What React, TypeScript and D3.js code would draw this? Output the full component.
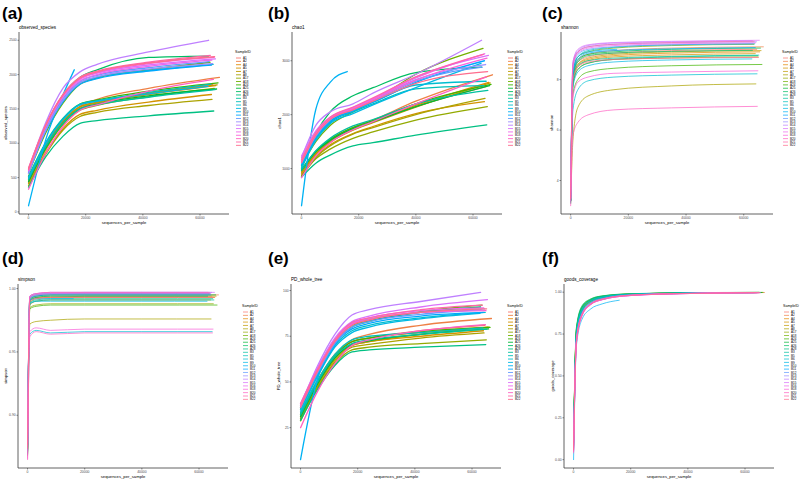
import React from 'react';
import * as d3 from 'd3';

// Sample identifiers, in legend order
const SAMPLES = ['A1', 'A2', 'A4', 'A5', 'A7', 'A8', 'A17', 'A18', 'A24', 'A25', 'A26', 'A28', 'B3', 'B5', 'B6', 'B9', 'B10', 'B11', 'B12', 'B13', 'B14', 'B15', 'B16', 'B18', 'B20', 'B21', 'B22'];

// Deepest rarefaction depth reached by each sample
const SAMPLE_END = [64500, 66800, 65500, 64000, 66000, 64200, 65000, 63500, 66300, 65800, 63000, 64800, 65200, 63800, 64600, 62800, 16000, 64000, 63200, 64400, 63000, 65400, 64100, 64900, 64700, 63600, 65100];

const X_TICKS = [0, 20000, 40000, 60000];

// Depth grids; the last value of every row sits at that sample's own end depth
const GRID_OBSERVED = [0, 6000, 12000, 18000, 24000, 42000];
const GRID_CHAO1 = [0, 5000, 10000, 18000, 25000, 40000];
const GRID_SHANNON = [10, 800, 2500, 6000, 15000, 35000];
const GRID_SIMPSON = [10, 800, 3000, 8000, 20000, 40000];
const GRID_PD = [0, 6000, 12000, 18000, 24000, 42000];
const GRID_GOODS = [10, 1000, 3000, 6000, 10000, 20000, 40000];

const observedSpecies = [
  [470, 930, 1290, 1510, 1590, 1720, 1860],
  [430, 900, 1290, 1540, 1640, 1800, 1960],
  [500, 970, 1320, 1530, 1590, 1710, 1840],
  [410, 860, 1210, 1420, 1480, 1600, 1710],
  [480, 960, 1310, 1530, 1600, 1730, 1850],
  [380, 840, 1190, 1390, 1450, 1550, 1640],
  [450, 920, 1270, 1480, 1550, 1680, 1800],
  [560, 1150, 1580, 1860, 1950, 2070, 2180],
  [520, 1000, 1350, 1570, 1630, 1760, 1880],
  [440, 930, 1290, 1500, 1570, 1690, 1790],
  [580, 1230, 1700, 1960, 2070, 2250, 2270],
  [360, 800, 1100, 1290, 1330, 1400, 1470],
  [470, 950, 1290, 1500, 1560, 1670, 1780],
  [510, 1010, 1360, 1570, 1620, 1740, 1860],
  [580, 1200, 1620, 1880, 1960, 2060, 2150],
  [490, 990, 1340, 1560, 1610, 1720, 1830],
  [90, 1050, 1700, 2070],
  [570, 1180, 1600, 1860, 1940, 2050, 2140],
  [590, 1220, 1650, 1900, 1990, 2100, 2190],
  [560, 1190, 1620, 1880, 1970, 2080, 2160],
  [620, 1300, 1800, 2040, 2150, 2330, 2500],
  [630, 1260, 1690, 1930, 2020, 2140, 2230],
  [610, 1240, 1670, 1910, 2000, 2120, 2210],
  [600, 1250, 1690, 1940, 2030, 2160, 2250],
  [330, 850, 1240, 1480, 1560, 1760, 1930],
  [640, 1270, 1710, 1960, 2050, 2180, 2280],
  [620, 1260, 1700, 1950, 2040, 2170, 2260],
];

const chao1 = [
  [880, 1250, 1480, 1720, 1860, 2150, 2520],
  [900, 1300, 1530, 1760, 1900, 2250, 2740],
  [950, 1290, 1500, 1730, 1870, 2170, 2600],
  [860, 1220, 1440, 1650, 1780, 2020, 2240],
  [920, 1270, 1490, 1710, 1850, 2140, 2590],
  [850, 1200, 1420, 1640, 1760, 2000, 2300],
  [870, 1180, 1360, 1560, 1680, 1900, 2150],
  [1050, 1500, 1800, 2050, 2250, 2750, 3230],
  [980, 1320, 1540, 1760, 1890, 2200, 2560],
  [960, 1310, 1520, 1740, 1870, 2150, 2540],
  [1000, 1650, 2050, 2350, 2500, 2780, 2880],
  [840, 1100, 1250, 1420, 1480, 1620, 1810],
  [970, 1330, 1560, 1790, 1910, 2200, 2450],
  [1000, 1550, 1850, 2050, 2200, 2480, 2540],
  [1060, 1560, 1880, 2080, 2230, 2550, 2620],
  [1020, 1520, 1830, 2020, 2180, 2500, 2950],
  [310, 2100, 2600, 2800],
  [1080, 1580, 1870, 2070, 2230, 2600, 3000],
  [1100, 1600, 1900, 2100, 2260, 2620, 2880],
  [1120, 1620, 1920, 2110, 2280, 2650, 2930],
  [1200, 1800, 2050, 2200, 2400, 2750, 3380],
  [1230, 1700, 1950, 2130, 2300, 2700, 3100],
  [1150, 1650, 1930, 2120, 2290, 2680, 3130],
  [1130, 1640, 1920, 2100, 2270, 2640, 3050],
  [830, 1230, 1480, 1720, 1870, 2200, 2700],
  [1170, 1670, 1950, 2140, 2310, 2700, 3120],
  [1110, 1620, 1910, 2090, 2250, 2580, 2800],
];

const shannon = [
  [3.2, 8.1, 8.7, 8.9, 9.05, 9.15, 9.2],
  [3.2, 8.2, 8.8, 9.0, 9.15, 9.25, 9.3],
  [3.25, 8.0, 8.6, 8.8, 8.95, 9.05, 9.1],
  [3.2, 7.9, 8.5, 8.75, 8.9, 8.98, 9.03],
  [3.2, 8.0, 8.6, 8.85, 9.0, 9.1, 9.15],
  [3.1, 5.6, 6.9, 7.35, 7.6, 7.75, 7.83],
  [3.2, 7.8, 8.4, 8.65, 8.8, 8.86, 8.9],
  [3.25, 8.3, 8.9, 9.1, 9.25, 9.35, 9.4],
  [3.2, 7.4, 8.0, 8.3, 8.45, 8.55, 8.6],
  [3.25, 8.2, 8.75, 9.0, 9.1, 9.2, 9.25],
  [3.25, 8.1, 8.7, 8.95, 9.05, 9.12, 9.16],
  [3.2, 7.8, 8.4, 8.65, 8.8, 8.9, 8.95],
  [3.2, 8.0, 8.55, 8.75, 8.85, 8.92, 8.97],
  [3.25, 8.3, 8.9, 9.15, 9.28, 9.38, 9.42],
  [3.1, 6.8, 7.6, 7.95, 8.1, 8.18, 8.23],
  [3.2, 7.7, 8.3, 8.55, 8.7, 8.78, 8.82],
  [3.2, 8.3, 8.9, 9.1, 9.2],
  [3.25, 8.2, 8.8, 9.05, 9.15, 9.22, 9.27],
  [3.3, 8.5, 9.0, 9.2, 9.3, 9.38, 9.42],
  [3.3, 8.6, 9.1, 9.3, 9.4, 9.46, 9.5],
  [3.3, 8.7, 9.15, 9.35, 9.45, 9.5, 9.54],
  [3.3, 8.7, 9.2, 9.38, 9.47, 9.52, 9.56],
  [3.3, 8.5, 9.05, 9.25, 9.35, 9.42, 9.46],
  [3.2, 7.3, 7.9, 8.1, 8.25, 8.3, 8.35],
  [3.0, 5.8, 6.3, 6.6, 6.8, 6.88, 6.94],
  [3.3, 8.6, 9.1, 9.3, 9.4, 9.47, 9.52],
  [3.25, 8.0, 8.5, 8.7, 8.8, 8.85, 8.88],
];

const simpson = [
  [0.872, 0.991, 0.993, 0.993, 0.994, 0.994, 0.994],
  [0.875, 0.992, 0.994, 0.995, 0.995, 0.995, 0.995],
  [0.870, 0.989, 0.992, 0.993, 0.993, 0.993, 0.993],
  [0.874, 0.987, 0.990, 0.991, 0.991, 0.991, 0.991],
  [0.873, 0.990, 0.993, 0.994, 0.994, 0.994, 0.994],
  [0.868, 0.972, 0.974, 0.975, 0.976, 0.976, 0.976],
  [0.871, 0.985, 0.987, 0.988, 0.988, 0.988, 0.988],
  [0.876, 0.993, 0.995, 0.996, 0.996, 0.996, 0.996],
  [0.870, 0.984, 0.986, 0.987, 0.987, 0.987, 0.987],
  [0.874, 0.991, 0.994, 0.995, 0.995, 0.995, 0.995],
  [0.873, 0.990, 0.993, 0.994, 0.994, 0.994, 0.994],
  [0.872, 0.989, 0.991, 0.992, 0.992, 0.992, 0.992],
  [0.871, 0.988, 0.990, 0.991, 0.991, 0.991, 0.991],
  [0.876, 0.993, 0.995, 0.996, 0.996, 0.996, 0.996],
  [0.869, 0.964, 0.967, 0.965, 0.966, 0.966, 0.966],
  [0.872, 0.988, 0.990, 0.990, 0.990, 0.990, 0.990],
  [0.880, 0.991, 0.992, 0.992, 0.992],
  [0.875, 0.992, 0.994, 0.995, 0.995, 0.995, 0.995],
  [0.877, 0.993, 0.995, 0.996, 0.996, 0.996, 0.996],
  [0.877, 0.994, 0.996, 0.996, 0.997, 0.997, 0.997],
  [0.878, 0.994, 0.996, 0.997, 0.997, 0.997, 0.997],
  [0.878, 0.994, 0.996, 0.997, 0.997, 0.997, 0.997],
  [0.876, 0.993, 0.995, 0.996, 0.996, 0.996, 0.996],
  [0.866, 0.966, 0.969, 0.967, 0.968, 0.968, 0.968],
  [0.865, 0.962, 0.966, 0.964, 0.965, 0.965, 0.965],
  [0.877, 0.994, 0.996, 0.997, 0.997, 0.997, 0.997],
  [0.874, 0.990, 0.992, 0.993, 0.993, 0.993, 0.993],
];

const pdWholeTree = [
  [32, 50, 64, 72, 74, 78, 81],
  [30, 49, 64, 73, 76, 81, 84.7],
  [33, 51, 65, 72, 74, 77, 80],
  [31, 49, 63, 70, 72, 75, 78],
  [29, 48, 62, 70, 72, 76, 80],
  [28.7, 47, 61, 69, 70.5, 74, 76.8],
  [30, 47, 60, 67.5, 69, 71, 73],
  [36, 56, 72, 81, 83.5, 88.5, 92],
  [32, 50, 64, 72, 74, 77.5, 79.8],
  [31, 49, 63, 70.5, 72.5, 76, 79],
  [35, 55, 71, 80, 83, 88, 91],
  [29, 46, 59, 66.4, 67.5, 69, 70.4],
  [32, 50, 64, 71, 73, 76, 78.9],
  [33, 51, 65, 73, 75, 77, 79.6],
  [35, 54, 70, 78, 81, 85, 88],
  [34, 53, 69, 77, 80, 84.5, 87.5],
  [7.5, 52, 70, 79],
  [36, 55, 71, 79, 82, 86, 88],
  [36, 55, 71, 80, 83, 87, 89.5],
  [37, 57, 73, 82, 84.5, 88, 90],
  [37, 59, 76, 86.6, 89.5, 94, 99],
  [38, 58, 74, 83, 86, 91, 95],
  [38, 57, 73, 82, 85, 89, 90.5],
  [37, 56, 72, 81.5, 84, 88, 89],
  [25, 45, 60, 70, 73, 78, 81.4],
  [38, 57, 73, 82.5, 85, 89.5, 92],
  [36, 56, 72, 81, 84, 88, 90],
];

const goodsCoverage = [
  [0.10, 0.74, 0.89, 0.945, 0.968, 0.986, 0.995, 0.998],
  [0.08, 0.73, 0.885, 0.94, 0.965, 0.985, 0.994, 0.998],
  [0.12, 0.75, 0.895, 0.948, 0.97, 0.987, 0.995, 0.998],
  [0.10, 0.76, 0.90, 0.95, 0.972, 0.988, 0.995, 0.998],
  [0.09, 0.74, 0.89, 0.945, 0.968, 0.986, 0.995, 0.998],
  [0.11, 0.77, 0.905, 0.952, 0.973, 0.989, 0.996, 0.998],
  [0.12, 0.78, 0.91, 0.955, 0.975, 0.99, 0.996, 0.999],
  [0.08, 0.74, 0.89, 0.945, 0.968, 0.986, 0.994, 0.998],
  [0.12, 0.78, 0.915, 0.958, 0.977, 0.99, 0.996, 0.999],
  [0.11, 0.77, 0.91, 0.955, 0.975, 0.989, 0.996, 0.998],
  [0.09, 0.75, 0.90, 0.95, 0.97, 0.987, 0.995, 0.998],
  [0.13, 0.79, 0.92, 0.96, 0.978, 0.991, 0.997, 0.999],
  [0.11, 0.76, 0.905, 0.952, 0.973, 0.988, 0.996, 0.998],
  [0.09, 0.74, 0.895, 0.948, 0.97, 0.987, 0.995, 0.998],
  [0.10, 0.75, 0.90, 0.95, 0.97, 0.987, 0.995, 0.998],
  [0.08, 0.73, 0.885, 0.94, 0.965, 0.985, 0.994, 0.998],
  [0.00, 0.68, 0.84, 0.90, 0.93, 0.952],
  [0.07, 0.72, 0.88, 0.937, 0.962, 0.983, 0.993, 0.997],
  [0.07, 0.72, 0.875, 0.935, 0.96, 0.983, 0.993, 0.997],
  [0.06, 0.71, 0.87, 0.93, 0.958, 0.982, 0.993, 0.997],
  [0.05, 0.70, 0.865, 0.928, 0.955, 0.98, 0.992, 0.997],
  [0.06, 0.70, 0.865, 0.928, 0.956, 0.98, 0.992, 0.997],
  [0.05, 0.70, 0.86, 0.925, 0.955, 0.98, 0.992, 0.997],
  [0.06, 0.71, 0.87, 0.93, 0.958, 0.982, 0.993, 0.997],
  [0.04, 0.69, 0.86, 0.925, 0.955, 0.98, 0.992, 0.997],
  [0.05, 0.70, 0.865, 0.928, 0.956, 0.981, 0.992, 0.997],
  [0.06, 0.71, 0.87, 0.932, 0.96, 0.983, 0.993, 0.997],
];

const TICKS_OBSERVED = [0, 500, 1000, 1500, 2000, 2500];
const TICKS_CHAO1 = [1000, 2000, 3000];
const TICKS_SHANNON = [4, 6, 8];
const TICKS_SIMPSON = [0.9, 0.95, 1.0];
const TICKS_PD = [25, 50, 75, 100];
const TICKS_GOODS = [0, 0.25, 0.5, 0.75, 1];

// Polar-LUV (HCL) to sRGB, giving the classic evenly spaced hue palette
function hcl(h: number, c: number, l: number): string {
  const hr = (h * Math.PI) / 180;
  const U = c * Math.cos(hr);
  const V = c * Math.sin(hr);
  const Xn = 95.047, Yn = 100, Zn = 108.883;
  const Y = l > 8 ? Yn * Math.pow((l + 16) / 116, 3) : (Yn * l) / 903.3;
  const den = Xn + 15 * Yn + 3 * Zn;
  const un = (4 * Xn) / den, vn = (9 * Yn) / den;
  const up = U / (13 * l) + un, vp = V / (13 * l) + vn;
  const X = (9 * Y * up) / (4 * vp);
  const Z = (Y * (12 - 3 * up - 20 * vp)) / (4 * vp);
  const x = X / 100, y = Y / 100, z = Z / 100;
  const lin = [
    3.240479 * x - 1.53715 * y - 0.498535 * z,
    -0.969256 * x + 1.875992 * y + 0.041556 * z,
    0.055648 * x - 0.204043 * y + 1.057311 * z,
  ];
  const ch = lin.map((v) => {
    const g = v <= 0.0031308 ? 12.92 * v : 1.055 * Math.pow(v, 1 / 2.4) - 0.055;
    return Math.round(Math.max(0, Math.min(1, g)) * 255);
  });
  return `rgb(${ch[0]},${ch[1]},${ch[2]})`;
}

const COLORS = SAMPLES.map((_, i) => hcl(15 + (360 * i) / SAMPLES.length, 100, 65));

const FONT = 'Liberation Sans, Arial, Helvetica, sans-serif';

type PanelCfg = {
  tag: string;
  metric: string;
  grid: number[];
  rows: number[][];
  ticks: number[];
  fmt: (v: number) => string;
  left: number;
  right: number;
  top: number;
  bottom: number;
  tagX: number;
  tagY: number;
  legendX: number;
  legendY: number;
  yTitleOffset: number;
  width: number;
  opacity: number;
};

const X_MAX = d3.max(SAMPLE_END) as number;

function Panel({ cfg }: { cfg: PanelCfg }) {
  const xPad = X_MAX * 0.05;
  const x = d3.scaleLinear().domain([-xPad, X_MAX + xPad]).range([cfg.left, cfg.right]);
  const [mn, mx] = d3.extent(cfg.rows.flat()) as [number, number];
  const yPad = (mx - mn) * 0.05;
  const y = d3.scaleLinear().domain([mn - yPad, mx + yPad]).range([cfg.bottom, cfg.top]);
  const line = d3
    .line<[number, number]>()
    .x((d) => x(d[0]))
    .y((d) => y(d[1]))
    .curve(d3.curveMonotoneX);

  const series = cfg.rows.map((row, i) =>
    row.map((v, k) => [k < row.length - 1 ? cfg.grid[k] : SAMPLE_END[i], v] as [number, number])
  );
  const midX = (cfg.left + cfg.right) / 2;
  const midY = (cfg.top + cfg.bottom) / 2;
  const axisColor = '#3a3a3a';

  return (
    <g>
      <text x={cfg.tagX} y={cfg.tagY} fontFamily={FONT} fontWeight="bold" fontSize={17} fill="#000">
        {cfg.tag}
      </text>
      <text x={cfg.left} y={cfg.top - 3} fontFamily={FONT} fontSize={4.6} fill="#000">
        {cfg.metric}
      </text>

      {series.map((pts, i) => (
        <path
          key={SAMPLES[i]}
          d={line(pts) || ''}
          fill="none"
          stroke={COLORS[i]}
          strokeWidth={cfg.width}
          strokeOpacity={cfg.opacity}
          strokeLinejoin="round"
          strokeLinecap="round"
        />
      ))}

      {/* axes */}
      <line x1={cfg.left} x2={cfg.left} y1={cfg.top} y2={cfg.bottom} stroke={axisColor} strokeWidth={0.8} />
      <line x1={cfg.left} x2={cfg.right} y1={cfg.bottom} y2={cfg.bottom} stroke={axisColor} strokeWidth={0.8} />
      {cfg.ticks.map((t) => (
        <g key={'y' + t}>
          <line x1={cfg.left - 1.5} x2={cfg.left} y1={y(t)} y2={y(t)} stroke={axisColor} strokeWidth={0.6} />
          <text x={cfg.left - 2.3} y={y(t) + 1.2} textAnchor="end" fontFamily={FONT} fontSize={3.4} fill="#4d4d4d">
            {cfg.fmt(t)}
          </text>
        </g>
      ))}
      {X_TICKS.map((t) => (
        <g key={'x' + t}>
          <line x1={x(t)} x2={x(t)} y1={cfg.bottom} y2={cfg.bottom + 1.5} stroke={axisColor} strokeWidth={0.6} />
          <text x={x(t)} y={cfg.bottom + 5} textAnchor="middle" fontFamily={FONT} fontSize={3.4} fill="#4d4d4d">
            {t}
          </text>
        </g>
      ))}
      <text x={midX} y={cfg.bottom + 9.5} textAnchor="middle" fontFamily={FONT} fontSize={4.2} fill="#000">
        sequences_per_sample
      </text>
      <text
        transform={`translate(${cfg.left + cfg.yTitleOffset},${midY}) rotate(-90)`}
        textAnchor="middle"
        fontFamily={FONT}
        fontSize={4.2}
        fill="#000"
      >
        {cfg.metric}
      </text>

      {/* legend */}
      <text x={cfg.legendX} y={cfg.legendY} fontFamily={FONT} fontSize={3.6} fill="#000">
        SampleID
      </text>
      {SAMPLES.map((s, i) => {
        const yy = cfg.legendY + 5.5 + i * 3.36;
        return (
          <g key={'lg' + s}>
            <line
              x1={cfg.legendX + 1}
              x2={cfg.legendX + 6}
              y1={yy}
              y2={yy}
              stroke={COLORS[i]}
              strokeWidth={0.9}
              strokeOpacity={cfg.opacity}
            />
            <text x={cfg.legendX + 8} y={yy + 1.1} fontFamily={FONT} fontSize={3} fill="#000">
              {s}
            </text>
          </g>
        );
      })}
    </g>
  );
}

const f2 = (v: number) => v.toFixed(2);
const f0 = (v: number) => String(v);

export default function App() {
  const top = { top: 32, bottom: 214, tagY: 19, legendY: 52.5 };
  const bot = { top: 284, bottom: 468, tagY: 264, legendY: 306.5 };
  const panels: PanelCfg[] = [
    { tag: '(a)', metric: 'observed_species', grid: GRID_OBSERVED, rows: observedSpecies, ticks: TICKS_OBSERVED, fmt: f0, left: 19, right: 229, ...top, tagX: 2, legendX: 235, yTitleOffset: -12, width: 1.3, opacity: 1 },
    { tag: '(b)', metric: 'chao1', grid: GRID_CHAO1, rows: chao1, ticks: TICKS_CHAO1, fmt: f0, left: 292, right: 502, ...top, tagX: 268, legendX: 507, yTitleOffset: -11, width: 1.3, opacity: 1 },
    { tag: '(c)', metric: 'shannon', grid: GRID_SHANNON, rows: shannon, ticks: TICKS_SHANNON, fmt: f0, left: 561, right: 773, ...top, tagX: 542, legendX: 782, yTitleOffset: -8, width: 0.9, opacity: 0.8 },
    { tag: '(d)', metric: 'simpson', grid: GRID_SIMPSON, rows: simpson, ticks: TICKS_SIMPSON, fmt: f2, left: 18, right: 228, ...bot, tagX: 2, legendX: 242, yTitleOffset: -11, width: 0.9, opacity: 0.8 },
    { tag: '(e)', metric: 'PD_whole_tree', grid: GRID_PD, rows: pdWholeTree, ticks: TICKS_PD, fmt: f0, left: 291, right: 501, ...bot, tagX: 268, legendX: 507, yTitleOffset: -11, width: 1.3, opacity: 1 },
    { tag: '(f)', metric: 'goods_coverage', grid: GRID_GOODS, rows: goodsCoverage, ticks: TICKS_GOODS, fmt: f2, left: 564, right: 774, ...bot, tagX: 542, legendX: 783, yTitleOffset: -10, width: 0.9, opacity: 0.8 },
  ];
  return (
    <svg
      width={800}
      height={480}
      viewBox="0 0 800 480"
      style={{ position: 'absolute', left: 0, top: 0, background: '#fff' }}
    >
      <rect width={800} height={480} fill="#fff" />
      {panels.map((p) => (
        <Panel key={p.tag} cfg={p} />
      ))}
    </svg>
  );
}
